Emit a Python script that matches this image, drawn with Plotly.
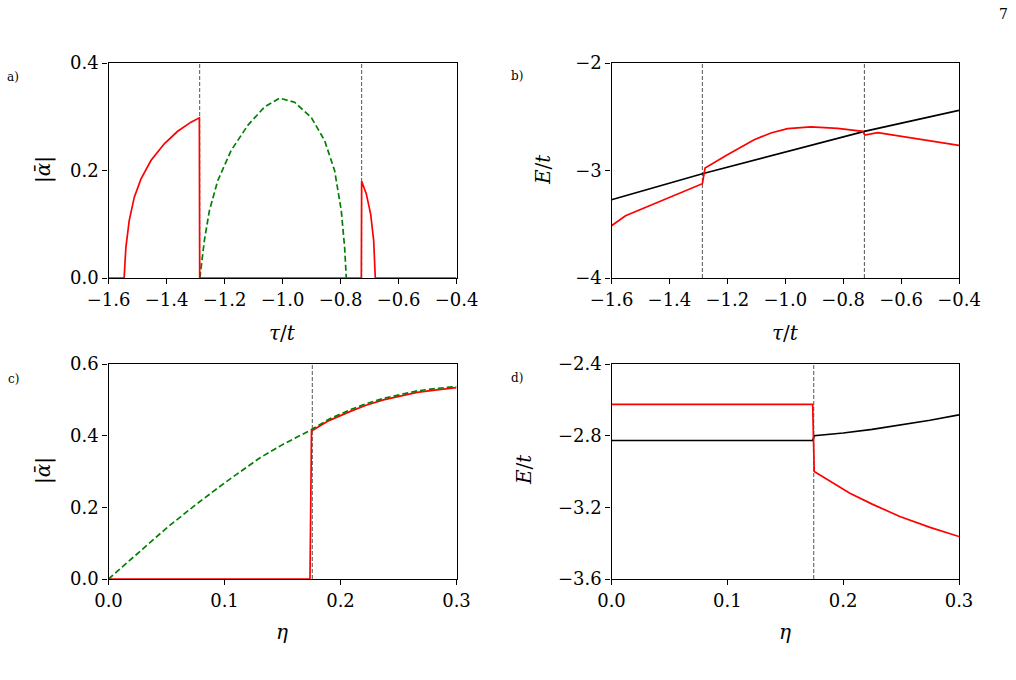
import plotly.graph_objects as go

# ---------------- data ----------------
# Panel a: |alpha_bar| vs tau/t
a_red_x = [-1.6, -1.546, -1.543, -1.540, -1.5286, -1.5113, -1.4883, -1.4537, -1.4077, -1.3616,
           -1.3155, -1.2867, -1.2856, -1.0, -0.7282, -0.7271, -0.711, -0.696, -0.6856, -0.680,
           -0.6, -0.4]
a_red_y = [0.0, 0.0, 0.03, 0.057, 0.1067, 0.150, 0.184, 0.2185, 0.2497, 0.273,
           0.290, 0.298, 0.0, 0.0, 0.0, 0.180, 0.1565, 0.119, 0.0695, 0.0,
           0.0, 0.0]
a_green_x = [-1.285, -1.278, -1.2695, -1.2522, -1.2234, -1.1773, -1.1198, -1.0622, -1.0103,
             -0.9585, -0.901, -0.8549, -0.8203, -0.7973, -0.7858, -0.780]
a_green_y = [0.0, 0.035, 0.0695, 0.125, 0.181, 0.237, 0.284, 0.318, 0.3346,
             0.327, 0.299, 0.2558, 0.1999, 0.1254, 0.057, 0.0]
a_vlines = [-1.2856, -0.7271]

# Panel b: E/t vs tau/t
b_black_x = [-1.6, -1.2862, -0.7267, -0.4]
b_black_y = [-3.272, -3.030, -2.636, -2.441]
b_red_x = [-1.6, -1.5515, -1.2862, -1.277, -1.1997, -1.1074, -1.0497, -0.992, -0.9113, -0.819,
           -0.7324, -0.7253, -0.6805, -0.4]
b_red_y = [-3.5135, -3.4205, -3.1228, -2.977, -2.853, -2.7135, -2.651, -2.611, -2.595, -2.608,
           -2.636, -2.670, -2.648, -2.767]
b_vlines = [-1.2862, -0.7267]

# Panel c: |alpha_bar| vs eta
c_green_x = [0.0, 0.025, 0.05, 0.075, 0.1, 0.13, 0.15, 0.175, 0.19, 0.208, 0.222, 0.237,
             0.25, 0.266, 0.283, 0.3]
c_green_y = [0.0, 0.071, 0.142, 0.207, 0.268, 0.337, 0.375, 0.417, 0.446, 0.472, 0.489, 0.504,
             0.514, 0.525, 0.532, 0.537]
c_red_x = [0.0, 0.1737, 0.175, 0.19, 0.208, 0.222, 0.237, 0.25, 0.266, 0.283, 0.3]
c_red_y = [0.0, 0.0, 0.413, 0.442, 0.467, 0.485, 0.5, 0.51, 0.521, 0.528, 0.534]
c_vlines = [0.1757]

# Panel d: E/t vs eta
d_red_x = [0.0, 0.1737, 0.175, 0.19, 0.2058, 0.225, 0.2489, 0.275, 0.3]
d_red_y = [-2.625, -2.625, -3.0, -3.06, -3.121, -3.182, -3.251, -3.312, -3.363]
d_black_x = [0.0, 0.1737, 0.175, 0.2, 0.225, 0.25, 0.275, 0.3]
d_black_y = [-2.827, -2.827, -2.8, -2.785, -2.765, -2.741, -2.714, -2.684]
d_vlines = [0.1746]

tau_ticks = [-1.6, -1.4, -1.2, -1.0, -0.8, -0.6, -0.4]
eta_ticks = [0.0, 0.1, 0.2, 0.3]
a_yticks = [0.0, 0.2, 0.4]
b_yticks = [-4, -3, -2]
c_yticks = [0.0, 0.2, 0.4, 0.6]
d_yticks = [-3.6, -3.2, -2.8, -2.4]

# ---------------- layout helpers ----------------
W, H = 1016, 680
FONT = "DejaVu Serif"


def fx(px):
    return px / W


def fy(py):
    return 1 - py / H


def lab(v, dec):
    s = f"{abs(v):.{dec}f}"
    return ("\u2212" + s) if v < 0 else s


fig = go.Figure()

RED = "#ff0000"
GREEN = "#008000"
BLACK = "#000000"
GRAY = "#555555"


def add(x, y, color, ax, dash=None):
    fig.add_trace(go.Scatter(x=x, y=y, mode="lines", xaxis="x" + ax, yaxis="y" + ax,
                             line=dict(color=color, width=1.7, dash=dash), showlegend=False,
                             hoverinfo="skip"))


# Panel a
add(a_green_x, a_green_y, GREEN, "", "6px,3px")
add(a_red_x, a_red_y, RED, "")
# Panel b
add(b_black_x, b_black_y, BLACK, "2")
add(b_red_x, b_red_y, RED, "2")
# Panel c
add(c_red_x, c_red_y, RED, "3")
add(c_green_x, c_green_y, GREEN, "3", "6px,3px")
# Panel d
add(d_black_x, d_black_y, BLACK, "4")
add(d_red_x, d_red_y, RED, "4")

shapes = []
for ax, vl in (("", a_vlines), ("2", b_vlines), ("3", c_vlines), ("4", d_vlines)):
    for v in vl:
        shapes.append(dict(type="line", xref="x" + ax, yref=("y" + ax) + " domain",
                           x0=v, x1=v, y0=0, y1=1,
                           line=dict(color=GRAY, width=1, dash="4px,2px"), layer="below"))

xdom_l = [fx(108.5), fx(456.5)]
xdom_r = [fx(611.5), fx(959)]
ydom_t = [fy(278), fy(63)]
ydom_b = [fy(579), fy(364)]

tickfont = dict(family=FONT, size=18, color="black")


def axis(dom, anchor, rng, ticks, dec):
    return dict(domain=dom, anchor=anchor, range=rng, tickvals=ticks,
                ticktext=[lab(t, dec) for t in ticks], showline=True, mirror=True,
                linecolor="black", linewidth=1.3, ticks="outside", ticklen=5, tickwidth=1.2,
                tickcolor="black", showgrid=False, zeroline=False, tickfont=tickfont,
                automargin=False)


ann = []


def text(px, py, s, size, angle=0):
    ann.append(dict(x=fx(px), y=fy(py), xref="paper", yref="paper", text=s, showarrow=False,
                    font=dict(family=FONT, size=size, color="black"), textangle=angle,
                    xanchor="center", yanchor="middle"))


alpha_lbl = "|<i>\u1FB1</i>|"
text(43, 170, alpha_lbl, 20, -90)
text(543, 170, "<i>E</i>/<i>t</i>", 20, -90)
text(43, 471, alpha_lbl, 20, -90)
text(524, 470, "<i>E</i>/<i>t</i>", 20, -90)
text(282, 333, "<i>\u03c4</i>/<i>t</i>", 20)
text(785, 333, "<i>\u03c4</i>/<i>t</i>", 20)
text(282, 632, "<i>\u03b7</i>", 20)
text(785, 632, "<i>\u03b7</i>", 20)
text(13, 77, "a)", 12)
text(517, 76, "b)", 12)
text(13, 379, "c)", 12)
text(517, 378, "d)", 12)
text(1003, 14, "7", 14)

fig.update_layout(
    width=W, height=H, margin=dict(l=0, r=0, t=0, b=0, pad=0, autoexpand=False),
    paper_bgcolor="white", plot_bgcolor="white",
    xaxis=axis(xdom_l, "y", [-1.6, -0.4], tau_ticks, 1),
    yaxis=axis(ydom_t, "x", [0, 0.4], a_yticks, 1),
    xaxis2=axis(xdom_r, "y2", [-1.6, -0.4], tau_ticks, 1),
    yaxis2=axis(ydom_t, "x2", [-4, -2], b_yticks, 0),
    xaxis3=axis(xdom_l, "y3", [0, 0.3], eta_ticks, 1),
    yaxis3=axis(ydom_b, "x3", [0, 0.6], c_yticks, 1),
    xaxis4=axis(xdom_r, "y4", [0, 0.3], eta_ticks, 1),
    yaxis4=axis(ydom_b, "x4", [-3.6, -2.4], d_yticks, 1),
    shapes=shapes, annotations=ann,
)

fig.write_html("out.html")
